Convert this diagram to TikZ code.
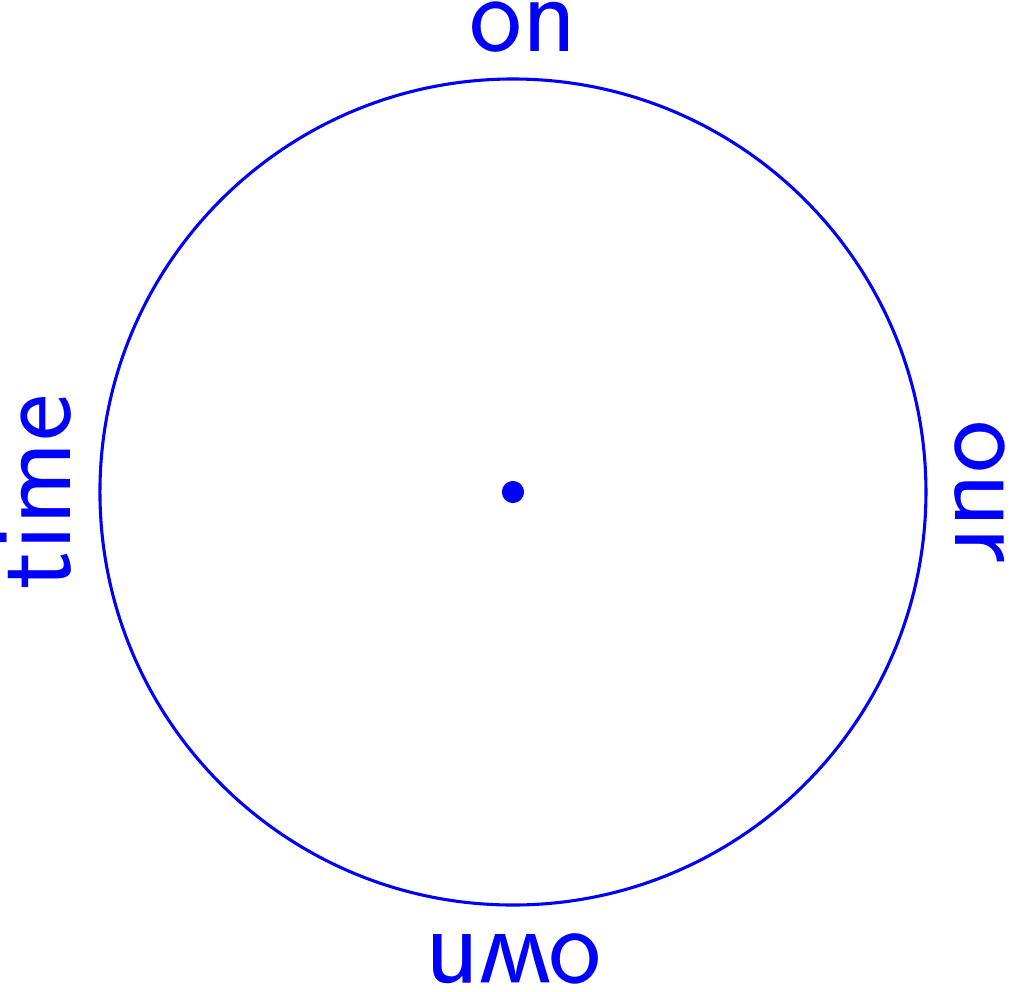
\documentclass[tikz,border=0pt]{standalone}
\usepackage{tikz}
\usetikzlibrary{calc}

\begin{document}
\begin{tikzpicture}[
  lbl/.style={text=blue, font=\sffamily\fontsize{31}{37}\selectfont,
    inner sep=0pt, anchor=south},
  ring/.style={draw=blue, line width=0.85pt},
  ctr/.style={circle, fill=blue, inner sep=0pt, minimum size=2.15mm}
]
\useasboundingbox (-4.968,-4.833) rectangle (4.862,4.765);
\node[ctr] (c) at (0,0) {};
\draw[ring] (c.center) circle (4cm);
\node[lbl, rotate=0] (on) at ($(90:4.25)+(0.1,0)$) {on};
\node[lbl, rotate=90] (time) at (180:4.27) {time};
\node[lbl, rotate=180] (own) at (270:4.27) {own};
\node[lbl, rotate=-90] (our) at (0:4.27) {our};
\end{tikzpicture}
\end{document}
